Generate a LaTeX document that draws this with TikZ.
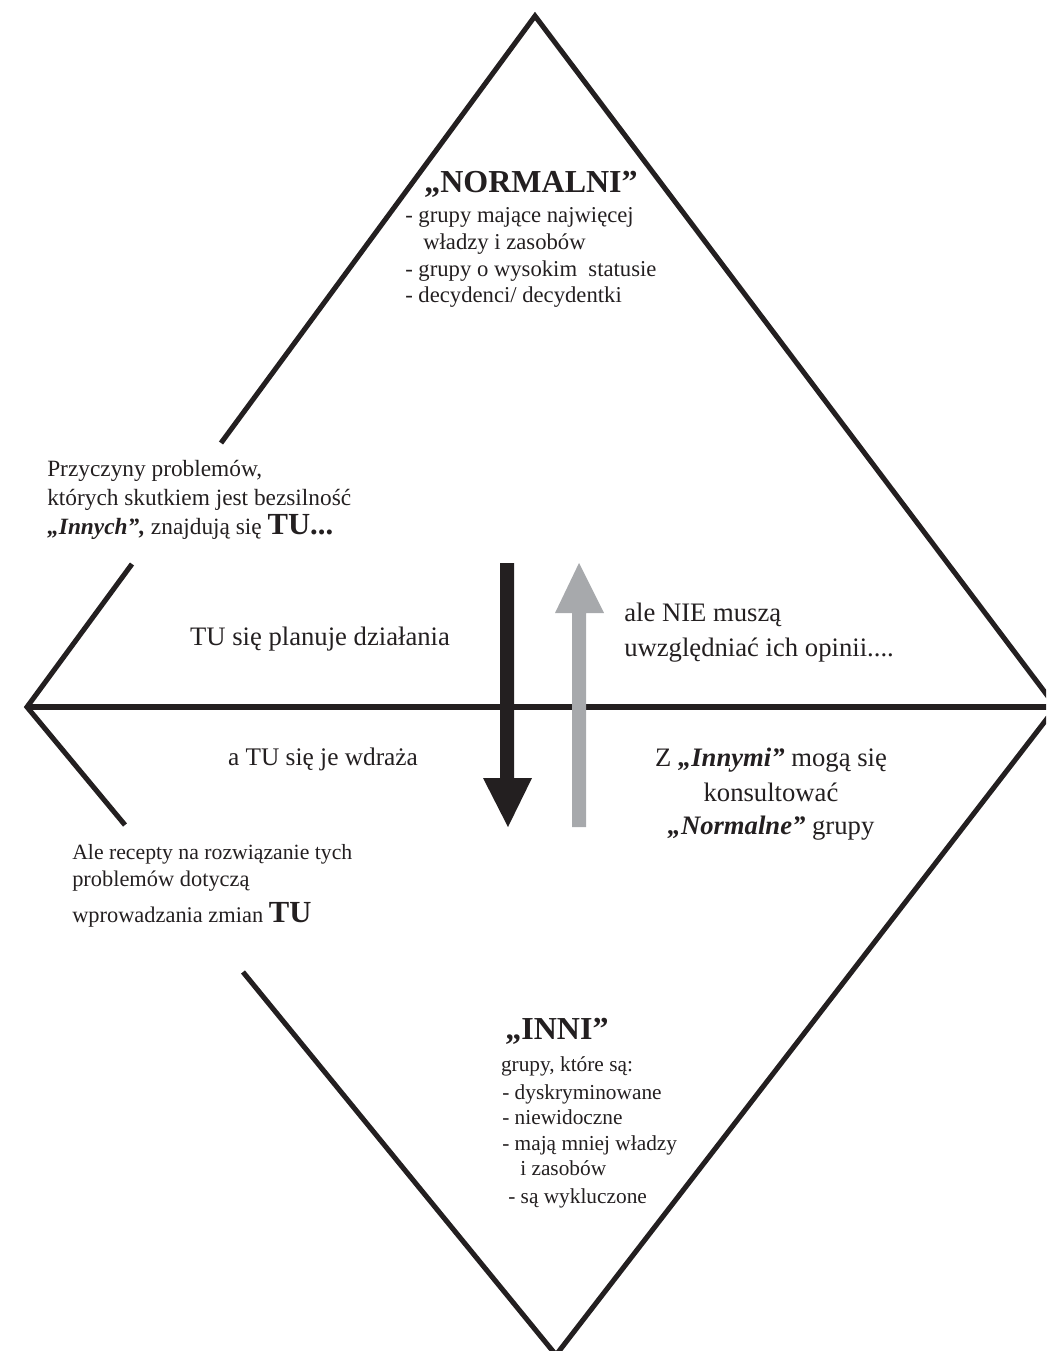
\documentclass[tikz,border=0pt]{standalone}
\usepackage{fontspec}
\setmainfont{Liberation Serif}
\definecolor{ink}{HTML}{231F20}
\definecolor{lgray}{HTML}{A7A9AC}
\newcommand{\fsz}[1]{\fontsize{#1}{#1}\selectfont}
\newcommand{\bigTU}[1]{{\bfseries\fsz{23}#1}}
\begin{document}
\begin{tikzpicture}[x=0.75pt,y=-0.75pt,
  edge/.style={draw=ink,line width=3.8pt,line join=miter},
  lbl/.style={inner sep=0pt,text=ink},
  title/.style={lbl,anchor=base,font=\bfseries\fsz{24}},
  mid/.style={lbl,font=\fsz{20}},
  upper/.style={lbl,anchor=base west,font=\fsz{17}},
  lower/.style={lbl,font=\fsz{16}}]
\clip (0,0) rectangle (1046,1351);
% diamond vertices and gap points
\coordinate (T) at (535,16);
\coordinate (L) at (27,707);
\coordinate (R) at (1056,707);
\coordinate (B) at (556,1355);
\coordinate (ga) at (221,443);
\coordinate (gb) at (132,564);
\coordinate (gc) at (125,825);
\coordinate (gd) at (243,972);
\draw[edge] (ga) -- (T) -- (R) -- (B) -- (gd);
\draw[edge] (gb) -- (L) -- (gc);
\draw[edge] (L) -- (R);
% arrows
\fill[ink] (500,563) -- (514,563) -- (514,778) -- (532,778) -- (508,827) -- (483,778) -- (500,778) -- cycle;
\fill[lgray] (572,827) -- (586,827) -- (586,613) -- (604,613) -- (579,563) -- (555,613) -- (572,613) -- cycle;
% top block
\node[title] (normalni) at (531,193) {„NORMALNI”};
\node[upper] (n1) at (405,223) {- grupy mające najwięcej};
\node[upper] (n2) at (423,250) {władzy i zasobów};
\node[upper] (n3) at (405,277) {- grupy o wysokim~ statusie};
\node[upper] (n4) at (405,303) {- decydenci/ decydentki};
% left upper block
\node[upper,font=\fsz{17.5}] (p1) at (47,476) {Przyczyny problemów,};
\node[upper,font=\fsz{17.5}] (p2) at (47,505) {których skutkiem jest bezsilność};
\node[upper,font=\fsz{17.5}] (p3) at (47,534) {\textbf{\textit{„Innych”,}} znajdują się \bigTU{TU...}};
% middle
\node[mid,anchor=base] (plan) at (320,645) {TU się planuje działania};
\node[mid,anchor=base west] (nie1) at (624,621) {ale NIE muszą};
\node[mid,anchor=base west] (nie2) at (624,656) {uwzględniać ich opinii....};
\node[mid,anchor=base,font=\fsz{19}] (wdr) at (323,765) {a TU się je wdraża};
\node[mid,anchor=base] (z1) at (771,766) {Z \textbf{\textit{„Innymi”}} mogą się};
\node[mid,anchor=base] (z2) at (771,801) {konsultować};
\node[mid,anchor=base] (z3) at (771,834) {\textbf{\textit{„Normalne”}} grupy};
% lower left
\node[lower,anchor=base west,font=\fsz{16.3}] (a1) at (72,859) {Ale recepty na rozwiązanie tych};
\node[lower,anchor=base west,font=\fsz{16.8}] (a2) at (72,886) {problemów dotyczą};
\node[lower,anchor=base west,font=\fsz{16.8}] (a3) at (72,922) {wprowadzania zmian \bigTU{TU}};
% bottom block
\node[title] (inni) at (557,1039) {„INNI”};
\node[lower,anchor=base] (g0) at (567,1071) {grupy, które są:};
\node[lower,anchor=base west] (i1) at (502,1099) {- dyskryminowane};
\node[lower,anchor=base west] (i2) at (502,1124) {- niewidoczne};
\node[lower,anchor=base west] (i3) at (502,1150) {- mają mniej władzy};
\node[lower,anchor=base west] (i4) at (520,1175) {i zasobów};
\node[lower,anchor=base west] (i5) at (508,1203) {- są wykluczone};
\end{tikzpicture}
\end{document}
